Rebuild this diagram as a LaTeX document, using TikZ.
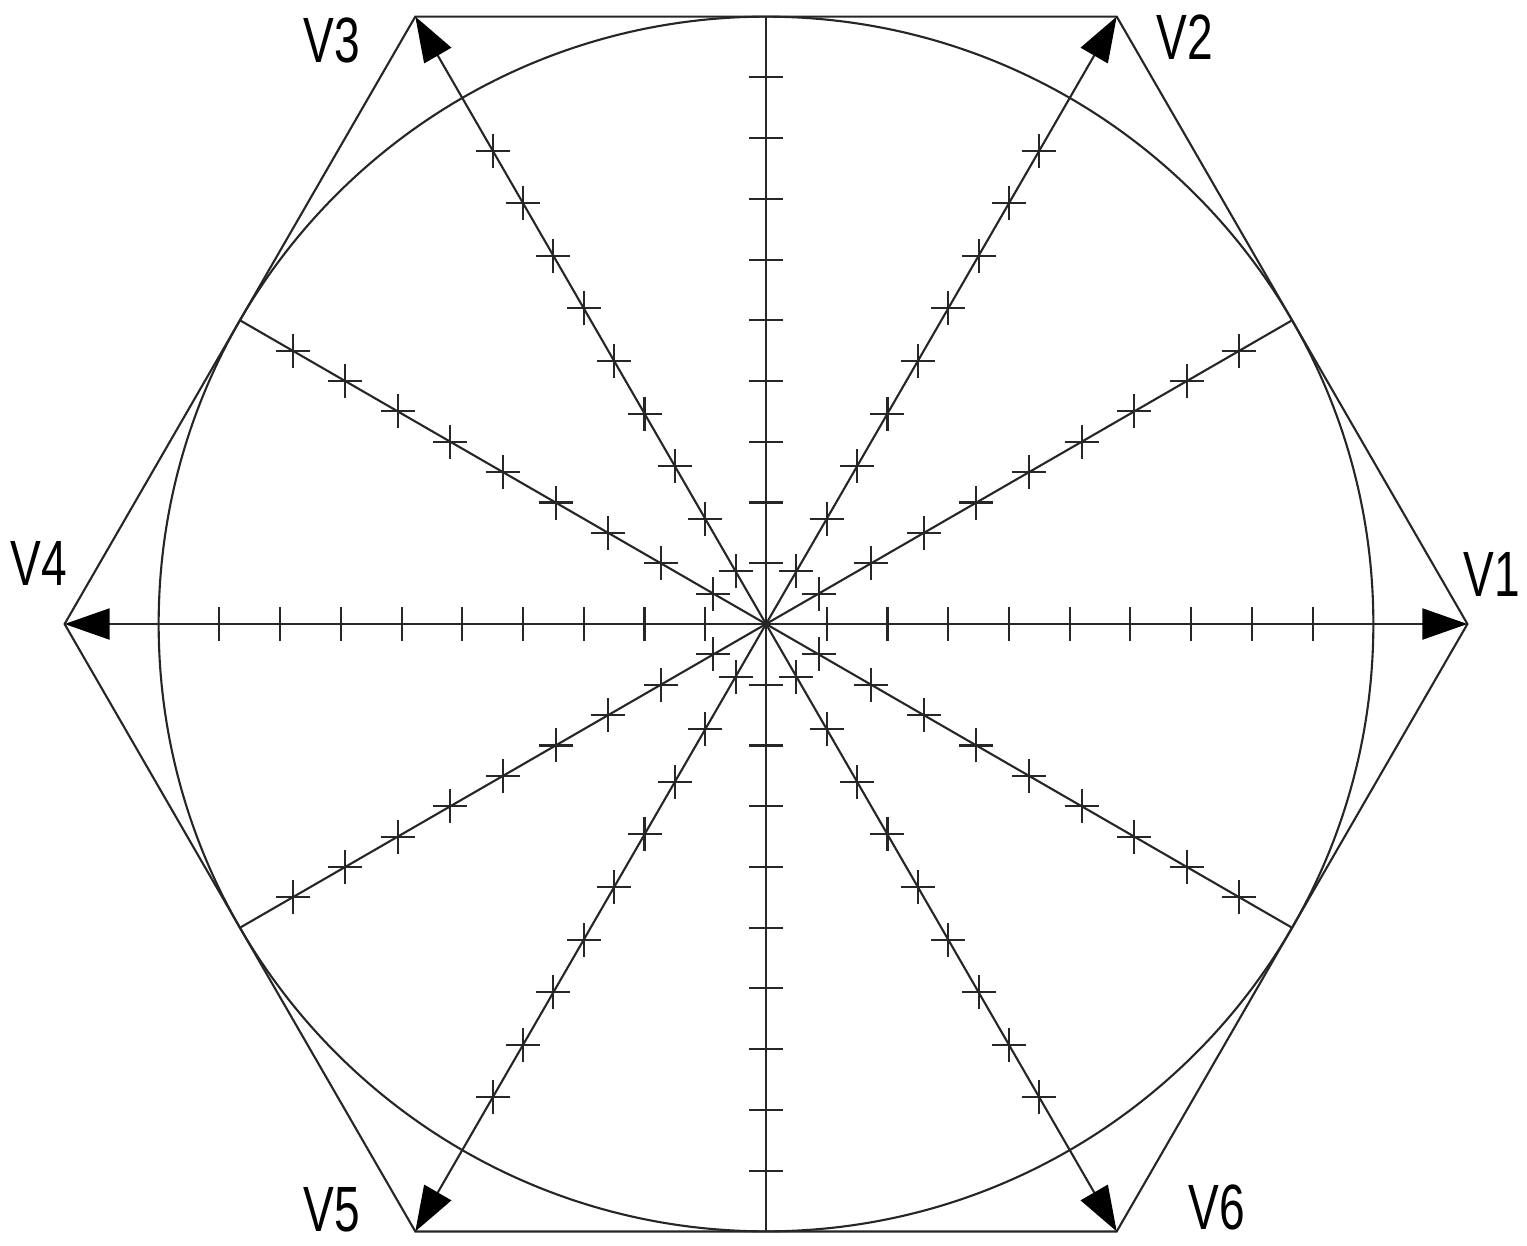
\documentclass[tikz,border=0pt]{standalone}
\usepackage{fontspec}
\setmainfont{Liberation Sans}
\usetikzlibrary{arrows.meta,calc}
\begin{document}
\begin{tikzpicture}[x=0.01cm,y=-0.01cm,
  thin line/.style={line width=0.6pt, draw=black!85},
  vec/.style={thin line, -{Triangle[length=0.45cm,width=0.31cm,color=black]}},
  lbl/.style={font=\fontsize{18.2}{18.2}\selectfont, inner sep=0pt},
  tickmark/.style={line width=0.6pt, draw=black!85}]
\useasboundingbox (0,0) rectangle (1527,1245);
\coordinate (O) at (766,624);
\foreach \i in {1,...,6} {
  \coordinate (v\i) at ($(O)+({(\i-1)*60}:7.01cm)$);
  \coordinate (m\i) at ($(O)+({(\i-1)*60+30}:6.07cm)$);
}
% hexagon and inscribed circle
\draw[thin line] (v1) -- (v2) -- (v3) -- (v4) -- (v5) -- (v6) -- cycle;
\draw[thin line] (O) circle[radius=6.07cm];
% radial lines
\foreach \i in {1,...,6} {
  \draw[vec] (O) -- (v\i);
  \draw[thin line] (O) -- (m\i);
}
% tick marks
\foreach \a in {0,30,...,330} {
  \foreach \k in {1,...,9} {
    \coordinate (t) at ($(O)+(\a:{0.607*\k cm})$);
    \draw[tickmark] ($(t)+(-0.17cm,0)$) -- ($(t)+(0.17cm,0)$);
    \draw[tickmark] ($(t)+(0,-0.17cm)$) -- ($(t)+(0,0.17cm)$);
  }
}
% labels
\node[lbl] (l1) at (1492,574) {\scalebox{0.72}[1]{V1}};
\node[lbl] (l2) at (1185,37) {\scalebox{0.72}[1]{V2}};
\node[lbl] (l3) at (332,40) {\scalebox{0.72}[1]{V3}};
\node[lbl] (l4) at (39,563) {\scalebox{0.72}[1]{V4}};
\node[lbl] (l5) at (332,1210) {\scalebox{0.72}[1]{V5}};
\node[lbl] (l6) at (1217,1207) {\scalebox{0.72}[1]{V6}};
\end{tikzpicture}
\end{document}
